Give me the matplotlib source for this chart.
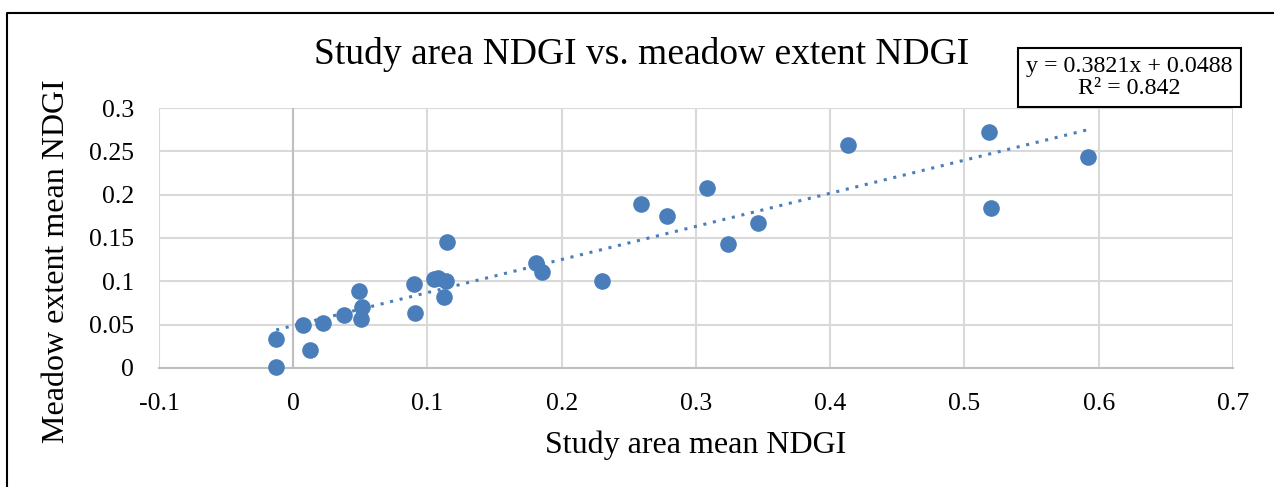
import numpy as np
import matplotlib.pyplot as plt
from matplotlib.lines import Line2D

plt.rcParams['font.family'] = ['Liberation Serif', 'DejaVu Serif']

# study area mean NDGI vs meadow extent mean NDGI
study_ndgi = [-0.0127, -0.0127, 0.0073, 0.0125, 0.0219, 0.0381, 0.0488, 0.0513, 0.0505,
              0.0896, 0.0908, 0.1050, 0.1080, 0.1135, 0.1142, 0.1124, 0.1811, 0.1851,
              0.2302, 0.2591, 0.2785, 0.3080, 0.3236, 0.3463, 0.4129, 0.5181, 0.5201, 0.5923]
meadow_ndgi = [0.0336, 0.0010, 0.0492, 0.0208, 0.0519, 0.0615, 0.0892, 0.0700, 0.0569,
               0.0969, 0.0631, 0.1026, 0.1038, 0.1003, 0.1451, 0.0814, 0.1211, 0.1103,
               0.1007, 0.1894, 0.1759, 0.2080, 0.1434, 0.1672, 0.2575, 0.2722, 0.1849, 0.2434]

slope, intercept, r2 = 0.3821, 0.0488, 0.842

blue = '#4a7ebb'
grid_c = '#d9d9d9'
axis_c = '#bfbfbf'

fig = plt.figure(figsize=(12.74, 4.87), dpi=100)
ax = fig.add_axes([0.1248, 0.2444, 0.843, 0.5338])

ax.set_xlim(-0.1, 0.7)
ax.set_ylim(0, 0.3)
ax.set_xticks(np.arange(-0.1, 0.71, 0.1))
ax.set_yticks(np.arange(0, 0.301, 0.05))
ax.set_xticklabels(['-0.1', '0', '0.1', '0.2', '0.3', '0.4', '0.5', '0.6', '0.7'])
ax.set_yticklabels(['0', '0.05', '0.1', '0.15', '0.2', '0.25', '0.3'])
ax.grid(True, color=grid_c, linewidth=1.5)
ax.set_axisbelow(True)
ax.tick_params(length=0, labelsize=18.5)
ax.tick_params(axis='x', pad=18)
ax.tick_params(axis='y', pad=18)
for s in ax.spines.values():
    s.set_visible(False)
# axis lines cross at zero
ax.axvline(0, color=axis_c, linewidth=1.5, zorder=1)
ax.axhline(0, color=axis_c, linewidth=1.5, zorder=1, clip_on=False)

ax.scatter(study_ndgi, meadow_ndgi, s=120, color=blue, zorder=3, clip_on=False)

# linear trendline
xt = np.array([min(study_ndgi), max(study_ndgi)])
ax.plot(xt, slope * xt + intercept, linestyle=(0, (1, 2.2)), color=blue,
        linewidth=2.2, zorder=2)

fig.text(0.5463, 1 - 445 / 487, 'Study area mean NDGI', fontsize=23,
         ha='center', va='center')
fig.text(57 / 1274, 1 - 261 / 487, 'Meadow extent mean NDGI', fontsize=23,
         ha='center', va='center', rotation=90)
fig.text(0.504, 1 - 55 / 487, 'Study area NDGI vs. meadow extent NDGI', fontsize=27,
         ha='center', va='center')

fig.text(0.8866, 0.8409, 'y = %.4fx + %.4f\nR\u00b2 = %.3f' % (slope, intercept, r2),
         fontsize=17.3, ha='center', va='center', linespacing=1.08,
         bbox=dict(boxstyle='square,pad=0.33', facecolor='white',
                   edgecolor='black', linewidth=1.5))

# chart border (left and top edges)
top = 1 - 13 / 487
left = 7 / 1274
fig.lines.append(Line2D([left, left, 1.0], [0.0, top, top], transform=fig.transFigure,
                        color='black', linewidth=1.5))

fig.savefig('out.png', dpi=100)
